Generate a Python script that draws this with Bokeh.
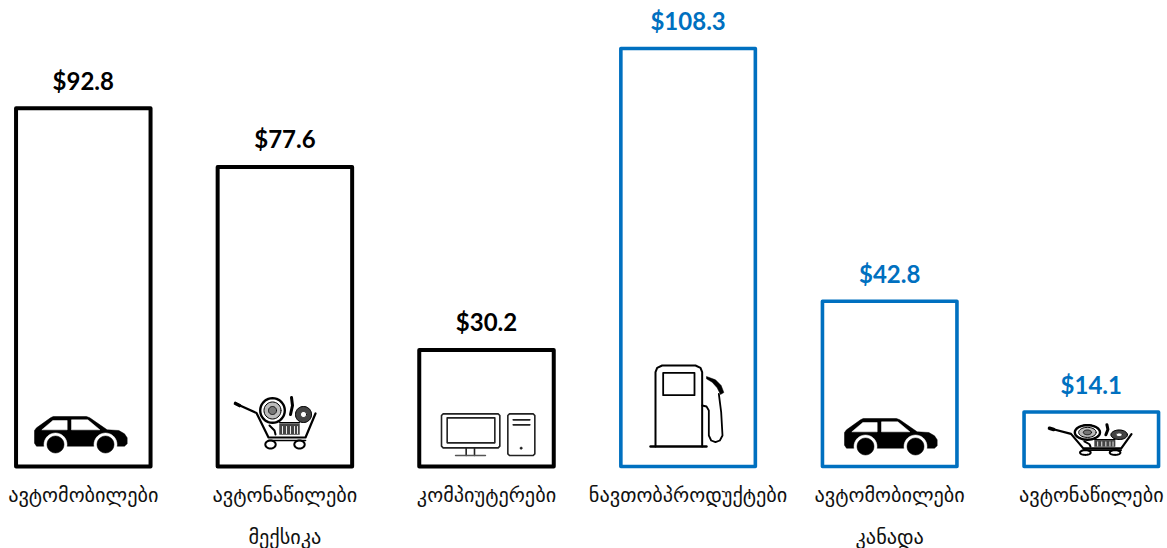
import math
from bokeh.plotting import figure
from bokeh.embed import file_html
from bokeh.resources import INLINE
from bokeh.core.properties import value
from bokeh.models import ColumnDataSource, Range1d

categories = ["ავტომობილები", "ავტონაწილები", "კომპიუტერები", "ნავთობპროდუქტები", "ავტომობილები", "ავტონაწილები"]
values = [92.8, 77.6, 30.2, 108.3, 42.8, 14.1]
value_labels = ["$92.8", "$77.6", "$30.2", "$108.3", "$42.8", "$14.1"]
groups = ["მექსიკა", "კანადა"]
group_positions = [1, 4]
BLACK = "#000000"
BLUE = "#0070C0"
colors = [BLACK, BLACK, BLACK, BLUE, BLUE, BLUE]
line_widths = [4, 4, 4, 3.6, 3.6, 3.6]

W, H = 1167, 548
STEP, X0 = 201.6, 82.8
PX_PER_UNIT, Y0 = 3.86, 466.0
BAR_W = 134.5 / STEP

p = figure(width=W, height=H, output_backend="svg", toolbar_location=None,
           x_range=Range1d(-X0 / STEP, (W - X0) / STEP),
           y_range=Range1d(-(H - Y0) / PX_PER_UNIT, Y0 / PX_PER_UNIT),
           min_border=0, outline_line_color=None, background_fill_color="white",
           border_fill_color="white", styles={"margin": "0px"})
p.axis.visible = False
p.grid.visible = False

idx = list(range(len(values)))
src = ColumnDataSource(dict(
    left=[i - BAR_W / 2 for i in idx], right=[i + BAR_W / 2 for i in idx],
    top=values, bottom=[0] * len(values), color=colors, lw=line_widths,
    x=idx, cat=categories, lab=value_labels))
p.quad(left="left", right="right", top="top", bottom="bottom", source=src,
       fill_color="white", line_color="color", line_width="lw", line_join="round")
p.text(x="x", y="top", text="lab", source=src, text_color="color", text_align="center",
       text_baseline="middle", y_offset=-28, text_font=value("Lato"), text_font_style="bold",
       text_font_size="24px")
p.text(x="x", y="bottom", text="cat", source=src, text_color="#111111", text_align="center",
       text_baseline="middle", y_offset=28.5, text_font=value("DejaVu Sans"), text_font_size="20.3px")
p.text(x=group_positions, y=[0, 0], text=groups, text_color="#111111", text_align="center",
       text_baseline="middle", y_offset=70, text_font=value("DejaVu Sans"), text_font_size="20.3px")

# ---- pictograms, drawn in page pixels and converted to the chart's scales ----
def cx(px): return (px - X0) / STEP
def cy(py): return (Y0 - py) / PX_PER_UNIT

def poly(pts, color="#000000"):
    p.patch([cx(a) for a, b in pts], [cy(b) for a, b in pts], fill_color=color, line_color=color, line_width=0.5)

def line(pts, w=1.6, color="#000000"):
    p.line([cx(a) for a, b in pts], [cy(b) for a, b in pts], line_color=color, line_width=w,
           line_join="round", line_cap="round")

def oval(x, y, rx, ry, fill=None, w=0, color="#000000"):
    pts = [(x + rx * math.cos(t * math.pi / 18), y + ry * math.sin(t * math.pi / 18)) for t in range(37)]
    if fill:
        poly(pts, fill)
    if w:
        line(pts, w, color)

def car(ox, oy):
    t = lambda a, b: (ox + (a - 102) / 3, oy + (b - 108) / 3)
    poly([t(*q) for q in [(102,150),(108,142),(150,112),(158,108),(258,108),(268,112),(320,148),(355,150),
                          (372,160),(380,172),(380,190),(372,197),(108,197),(102,188)]])
    poly([t(*q) for q in [(124,148),(157,120),(200,120),(200,148)]], "white")
    poly([t(*q) for q in [(213,118),(262,118),(298,148),(213,148)]], "white")
    for wx in (165, 315):
        a, b = t(wx, 192)
        oval(a, b, 11.5, 11.5, "white")
        oval(a, b, 8.5, 8.5, "#000000")

car(34, 416)
car(844, 418)

def cart(ox, oy, sx, sy):
    t = lambda a, b: (ox + (a - 15) * sx, oy + (b - 5) * sy)
    T = lambda pts: [t(*q) for q in pts]
    line(T([(15, 13), (36, 22.5), (48, 47), (85, 47), (95, 23)]), 2.2)
    line(T([(15, 13), (19, 15)]), 3.6)
    line(T([(48, 50), (85, 50)]), 1.6)
    for wx in (50, 79):
        a, b = t(wx, 54)
        oval(a, b, 5.2 * sx, 4 * sy, w=2)
    a, b = t(52, 20)
    oval(a, b, 12.3 * sx, 12.3 * sy, "#ffffff", 2.4)
    oval(a, b, 8.5 * sx, 8.5 * sy, "#bbbbbb", 1)
    oval(a, b, 4 * sx, 4 * sy, "#777777", 0.8)
    a, b = t(83, 24)
    oval(a, b, 8 * sx, 8 * sy, "#444444", 1)
    oval(a, b, 3 * sx, 3 * sy, "#ffffff", 0.8)
    line(T([(71, 7), (72, 15), (70, 24)]), 3)
    line(T([(49, 35), (54, 40), (55, 44)]), 2)
    poly(T([(59, 33), (79, 33), (79, 44), (59, 44)]), "#444444")
    line(T([(59, 32), (79, 32)]), 1.2)
    for bx in (62, 66, 70, 74, 77):
        line(T([(bx, 36), (bx, 43)]), 0.9, "#ffffff")

cart(235, 395, 1.0, 1.0)
cart(1049, 423, 83 / 81, 32 / 54)

# computer
def z2(pts): return [(400 + a / 3, 340 + b / 3) for a, b in pts]
line(z2([(128,220),(293,220),(298,225),(298,317),(293,322),(128,322),(123,317),(123,225),(128,220)]), 1.6, "#222222")
line(z2([(140,232),(283,232),(283,307),(140,307),(140,232)]), 1.6, "#222222")
line(z2([(197,322),(197,345)]), 1.6, "#222222")
line(z2([(222,322),(222,345)]), 1.6, "#222222")
line(z2([(165,345),(255,345)]), 1.4, "#555555")
line(z2([(327,220),(398,220),(403,225),(403,340),(398,345),(327,345),(322,340),(322,225),(327,220)]), 1.6, "#222222")
line(z2([(338,238),(388,238)]), 1.6, "#222222")
line(z2([(338,253),(388,253)]), 1.6, "#222222")
oval(400 + 362 / 3, 340 + 323 / 3, 1.2, 1.2, "#222222")

# fuel pump
line(z2([(765,318),(765,95),(770,82),(785,75),(885,75),(900,82),(905,95),(905,318)]), 2)
line(z2([(750,318),(918,318)]), 2.4)
line(z2([(788,97),(882,97),(882,164),(788,164),(788,97)]), 1.8)
line(z2([(905,195),(918,198),(925,210),(925,285),(932,300),(945,305),(958,300),(966,285),(962,215),(955,160)]), 1.8)
poly(z2([(918,108),(945,118),(962,135),(970,156),(960,162),(950,142),(935,125),(918,115)]))

open("out.html", "w").write(file_html(p, INLINE))
